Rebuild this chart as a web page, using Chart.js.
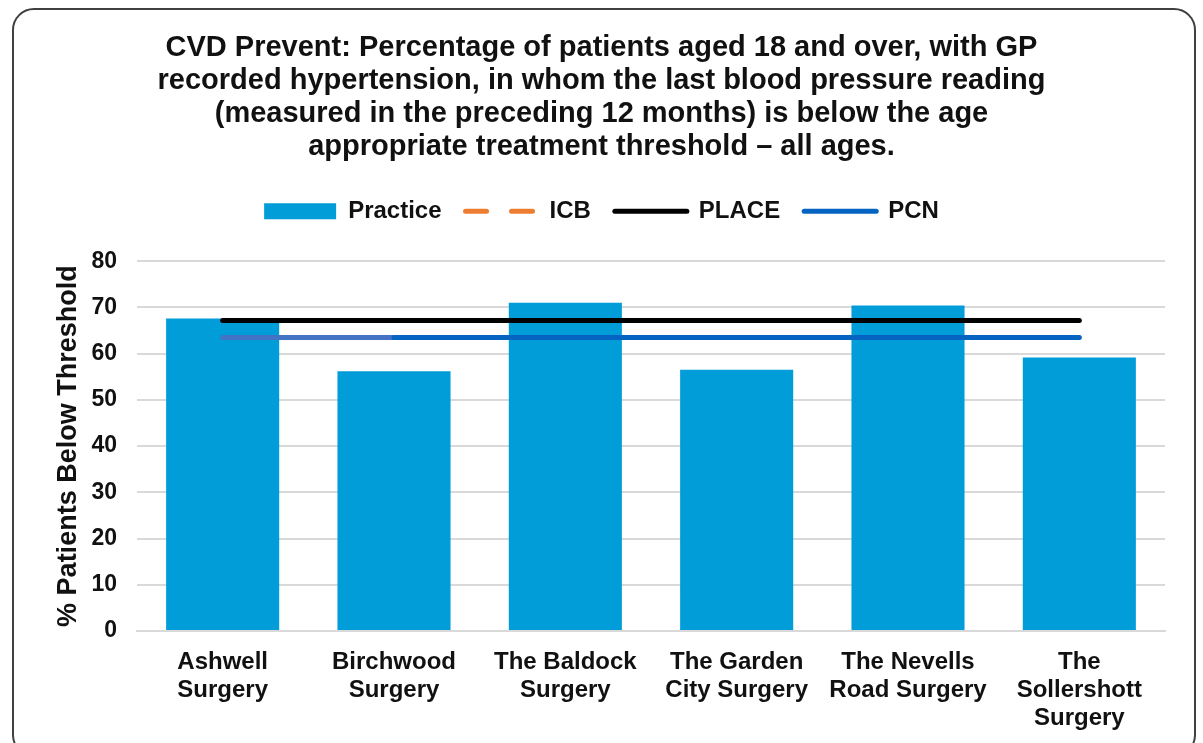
<!DOCTYPE html>
<html>
<head>
<meta charset="utf-8">
<script src="https://cdn.jsdelivr.net/npm/chart.js@4.4.1/dist/chart.umd.min.js"></script>
<style>
  html, body { margin: 0; padding: 0; background: #fff; overflow: hidden; }
  #wrap { position: relative; width: 1203px; height: 743px; }
  #frame {
    position: absolute; left: 12px; top: 8px; width: 1180px; height: 745px;
    border: 2px solid #404040; border-radius: 22px; pointer-events: none;
  }
  canvas { position: absolute; left: 0; top: 0; }
</style>
</head>
<body>
<div id="wrap">
  <canvas id="chart" width="1203" height="743"></canvas>
  <div id="frame"></div>
</div>
<script>
// 数据
const practices = [
  ['Ashwell', 'Surgery'],
  ['Birchwood', 'Surgery'],
  ['The Baldock', 'Surgery'],
  ['The Garden', 'City Surgery'],
  ['The Nevells', 'Road Surgery'],
  ['The', 'Sollershott', 'Surgery']
];
const practiceValues = [67.6, 56.2, 71.0, 56.5, 70.4, 59.2];
const icbValues = [null, null, null, null, null, null];
const placeValues = [67.2, 67.2, 67.2, 67.2, 67.2, 67.2];
const pcnValues = [63.5, 63.5, 63.5, 63.5, 63.5, 63.5];
const yTicks = [0, 10, 20, 30, 40, 50, 60, 70, 80];

const titleLines = [
  'CVD Prevent: Percentage of patients aged 18 and over, with GP',
  'recorded hypertension, in whom the last blood pressure reading',
  '(measured in the preceding 12 months) is below the age',
  'appropriate treatment threshold \u2013 all ages.'
];

Chart.defaults.font.family = "'Liberation Sans', Arial, sans-serif";
Chart.defaults.color = '#111';

// 图例和绘图区之间留出更多空间
const legendGap = {
  id: 'legendGap',
  beforeInit(chart) {
    const origFit = chart.legend.fit;
    chart.legend.fit = function () {
      origFit.call(this);
      this.height += 28;
    };
  }
};

const canvas = document.getElementById('chart');

new Chart(canvas, {
  type: 'bar',
  plugins: [legendGap],
  data: {
    labels: practices,
    datasets: [
      {
        label: 'Practice',
        data: practiceValues,
        backgroundColor: '#009DD9',
        borderWidth: 0,
        barPercentage: 0.66,
        categoryPercentage: 1.0,
        pointStyle: 'rect',
        order: 2
      },
      {
        type: 'line',
        label: 'ICB',
        data: icbValues,
        borderColor: '#ED7D31',
        backgroundColor: '#ED7D31',
        borderWidth: 5,
        borderDash: [21, 25],
        pointRadius: 0,
        pointStyle: 'line',
        order: 1
      },
      {
        type: 'line',
        label: 'PLACE',
        data: placeValues,
        borderColor: '#000000',
        backgroundColor: '#000000',
        borderWidth: 5,
        borderCapStyle: 'round',
        pointRadius: 0,
        pointStyle: 'line',
        order: 1
      },
      {
        type: 'line',
        label: 'PCN',
        data: pcnValues,
        borderColor: '#0563C1',
        backgroundColor: '#0563C1',
        borderWidth: 5,
        borderCapStyle: 'round',
        pointRadius: 0,
        pointStyle: 'line',
        // 第一段颜色较浅
        segment: {
          borderColor: ctx => ctx.p0DataIndex === 0 ? '#4472C4' : undefined
        },
        order: 1
      }
    ]
  },
  options: {
    responsive: false,
    animation: false,
    layout: {
      padding: { left: 38, right: 38, top: 31, bottom: 4 }
    },
    plugins: {
      title: {
        display: true,
        text: titleLines,
        color: '#111',
        font: { size: 29, weight: 'bold', lineHeight: 1.14 },
        padding: { top: 0, bottom: 12 }
      },
      legend: {
        position: 'top',
        labels: {
          usePointStyle: true,
          pointStyleWidth: 72,
          boxHeight: 16,
          padding: 24,
          color: '#111',
          font: { size: 24, weight: 'bold' },
          sort: (a, b) => a.datasetIndex - b.datasetIndex,
          generateLabels: chart => {
            const items = Chart.defaults.plugins.legend.labels.generateLabels(chart);
            items.forEach(item => {
              const ds = chart.data.datasets[item.datasetIndex];
              if (ds.type === 'line') {
                item.lineCap = 'round';
                item.lineDash = ds.borderDash || [];
              }
            });
            return items;
          }
        }
      },
      tooltip: { enabled: false }
    },
    scales: {
      x: {
        afterFit: scale => { scale.height = 108; },
        grid: { display: false },
        border: { display: true, color: '#d9d9d9', width: 2 },
        ticks: {
          color: '#111',
          maxRotation: 0,
          autoSkip: false,
          padding: 9,
          font: { size: 24, weight: 'bold', lineHeight: 1.17 }
        }
      },
      y: {
        min: 0,
        max: 80,
        afterFit: scale => { scale.width = 99; },
        afterBuildTicks: scale => {
          scale.ticks = yTicks.map(v => ({ value: v }));
        },
        grid: { color: '#d9d9d9', lineWidth: 2, drawTicks: false },
        border: { display: false },
        ticks: {
          color: '#111',
          padding: 20,
          font: { size: 23, weight: 'bold' }
        },
        title: {
          display: true,
          text: '% Patients Below Threshold',
          color: '#111',
          padding: { top: 17, bottom: 11 },
          font: { size: 27, weight: 'bold', lineHeight: 1.0 }
        }
      }
    }
  }
});
</script>
</body>
</html>
